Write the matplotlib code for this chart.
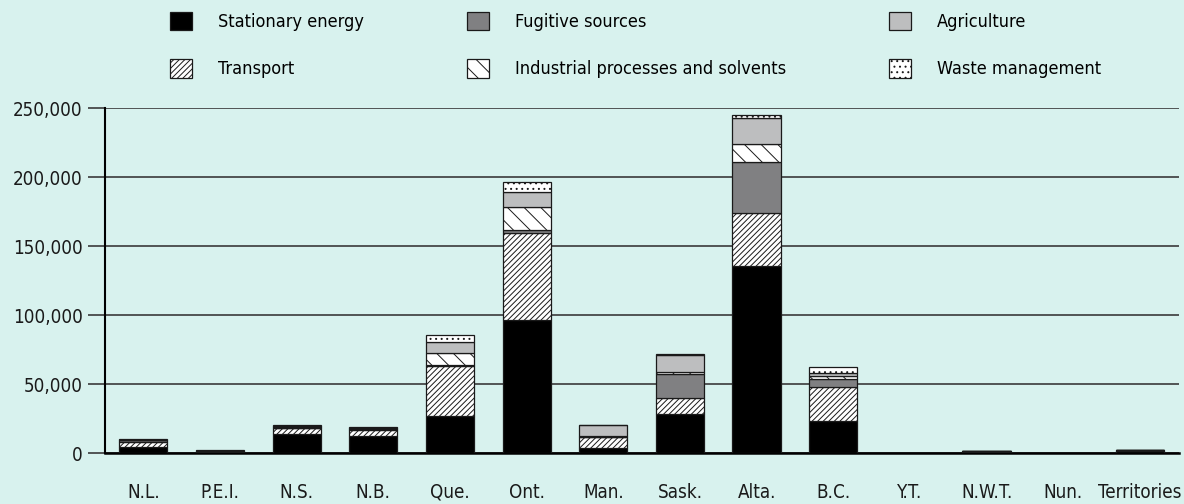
import numpy as np
import matplotlib
matplotlib.use("Agg")
from matplotlib import pyplot as plt

plt.rcParams['font.family'] = ['DejaVu Sans']
plt.rcParams['font.stretch'] = 'condensed'
plt.rcParams['hatch.linewidth'] = 0.7

provinces = ['N.L.', 'P.E.I.', 'N.S.', 'N.B.', 'Que.', 'Ont.', 'Man.', 'Sask.',
             'Alta.', 'B.C.', 'Y.T.', 'N.W.T.', 'Nun.', 'Territories']

stationary = [4800, 1200, 14000, 12500, 27000, 96500, 3500, 28300, 135500, 23600, 300, 1000, 300, 1600]
transport = [3600, 500, 4300, 4400, 36000, 63000, 8500, 12100, 38600, 24700, 200, 400, 200, 600]
fugitive = [1000, 0, 300, 400, 1000, 2000, 100, 16800, 37200, 5300, 0, 200, 0, 200]
industrial = [300, 0, 300, 300, 9000, 17000, 500, 1500, 12800, 2600, 0, 0, 0, 0]
agriculture = [200, 300, 1200, 600, 7700, 11000, 8000, 12500, 19100, 2200, 0, 0, 0, 0]
waste = [500, 100, 600, 600, 5000, 7300, 200, 700, 1700, 4300, 0, 100, 0, 100]

series = [
    ('Stationary energy', stationary, '#000000', None),
    ('Transport', transport, '#ffffff', '//////'),
    ('Fugitive sources', fugitive, '#808082', None),
    ('Industrial processes and solvents', industrial, '#ffffff', '\\\\'),
    ('Agriculture', agriculture, '#bdbebf', None),
    ('Waste management', waste, '#ffffff', '...'),
]

bg = '#d8f2ee'
fig = plt.figure(figsize=(11.84, 5.04), dpi=100, facecolor=bg)
ax = fig.add_axes([0.0887, 0.1006, 0.9071, 0.6845], facecolor=bg)

x = np.arange(len(provinces))
bottom = np.zeros(len(provinces))
handles = {}
for name, vals, color, hatch in series:
    vals = np.array(vals, dtype=float)
    b = ax.bar(x, vals, 0.63, bottom=bottom, color=color, edgecolor='#1a1a1a',
               linewidth=0.9, hatch=hatch, zorder=3, label=name)
    handles[name] = b
    bottom += vals

ax.set_xlim(-0.5, 13.51)
ax.set_ylim(0, 250000)
ax.set_yticks(np.arange(0, 250001, 50000))
ax.set_yticklabels([f'{v:,}' for v in range(0, 250001, 50000)])
ax.yaxis.grid(True, color='#3a3a3a', linewidth=1.2, zorder=1)
ax.tick_params(axis='y', length=12, width=1.2, color='#3a3a3a', labelsize=13.5, pad=4)
ax.set_xticks(x)
ax.set_xticklabels(provinces, va='baseline')
ax.tick_params(axis='x', length=0, labelsize=13.5, pad=32)
for lab in ax.get_xticklabels() + ax.get_yticklabels():
    lab.set_color('#1a1a1a')

for side in ['top', 'right']:
    ax.spines[side].set_visible(False)
ax.spines['left'].set_linewidth(1.5)
ax.spines['bottom'].set_linewidth(1.8)

order = ['Stationary energy', 'Transport', 'Fugitive sources',
         'Industrial processes and solvents', 'Agriculture', 'Waste management']
fig.legend([handles[n] for n in order], order, ncol=3, loc='upper left',
           bbox_to_anchor=(0.136, 0.995), frameon=False, fontsize=13,
           borderpad=0, handlelength=1.22, handleheight=1.22, handletextpad=1.44,
           columnspacing=5.7, labelspacing=1.55)

fig.savefig('out.png', dpi=100, facecolor=bg)
